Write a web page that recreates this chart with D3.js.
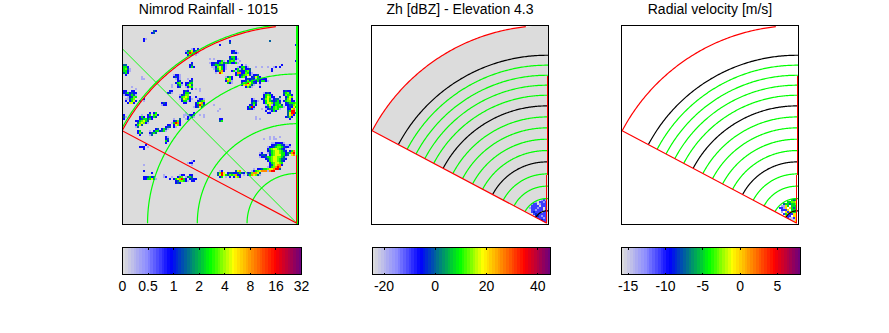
<!DOCTYPE html>
<html>
<head>
<meta charset="utf-8">
<script src="https://cdn.jsdelivr.net/npm/d3@7"></script>
<style>
html,body{margin:0;padding:0;background:#fff}
svg{display:block}
text{font-family:"Liberation Sans",Arial,sans-serif;fill:#000}
</style>
</head>
<body>
<script>
// titles and colorbar ticks
var titles = ["Nimrod Rainfall - 1015", "Zh [dBZ] - Elevation 4.3", "Radial velocity [m/s]"]
var rainTicks = [0, 0.5, 1, 2, 4, 8, 16, 32]
var zhTicks = [-20, 0, 20, 40]
var zhLim = [-24.5, 45]
var vrTicks = [-15, -10, -5, 0, 5]
var vrLim = [-15.9, 8.1]

// range rings, km
var rainRings = [50, 100, 150, 200]
var rainSpokes = [315, 360]
var heightRings = [12.4, 24.8, 37.2, 49.5, 61.6, 73, 84.4, 95.8, 106.8, 117.9, 128.6, 138.7, 148.7, 158.8, 168.8]
var blackRings = [12.4, 61.6, 117.9, 168.8]
var sectorRange = 198.6
var sectorStart = 297.9
var sectorEnd = 354.2

// what a digit in the patches below stands for
var rainLevels = [0.3, 0.9, 1.5, 2.7, 3.6, 5, 8.3, 16, 25]
var zhLevels = [-16, -10, -3, 4, 9]
var vrLevels = [-13.5, -10.5, -7.5, -5, -3, -0.5, 2, 5, -15]

// rainfall, [col, row, rows] on a 2 km grid, col 0 at left edge and row 0 at top
var rainPatches = [
[14,2,[".32","23"]],
[10,6,["21","2"]],
[31,11,["...12.2","1346231","2487421",".262.1"]],
[33,18,[".2","23","242"]],
[0,19,["33","442","4531","4421","342",".2"]],
[9,25,["1","11"]],
[25,24,["1221","2321",".121"]],
[26,27,[".23","2452",".341",".23"]],
[31,26,[".1.2","..23","2244","2463","1254",".1.2"]],
[28,32,["..232","..2443","12355","245652","1365421",".24412","..22"]],
[34,35,["..2","...1221","...2345","..24672","..23853",".12363",".."]],
[22,32,[".22","231"]],
[19,38,["232","122"]],
[0,32,["22..22","2342322","1223431","..12354",".11345",".2.2462","..2662"]],
[8,36,["..2","2.1"]],
[0,44,["2","31","2"]],
[10,43,["...2..","..24"]],
[6,44,["...1.","..242.23","..2344342","2245643",".356521","2463","13"]],
[14,43,[".24",".452","243"]],
[7,52,["24","253",".2"]],
[13,51,["...23","1.2442","2343","13"]],
[19,49,["...22","..233","2431","341"]],
[24,46,[".1..3",".2352","14872",".2652",".21"]],
[30,43,[".1...2","111223","1.2121",".12"]],
[21,55,["21","23","42","2"]],
[48,46,["22","34"]],
[47,41,[".1","1"]],
[52,12,["..221","..2321"]],
[50,15,["...2442","...3342","1.24541","24342241"]],
[44,17,["...2241","2232453","23443321","11256421",".1346421","..23572","..1.86"]],
[54,20,["...12","..2442","241432","..2772","..242"]],
[51,25,["1342","4652","2751",".421"]],
[58,19,[".2.1","2442","1352",".24"]],
[61,20,[".1"]],
[58,21,["...223","..2453","..25421","2345631","2452"]],
[59,26,["..232","22352422","35486432","2676531","..2531"]],
[64,24,[".223","23642","3253","..2431"]],
[66,25,["..2","1.3222","..24421","..2","..1","..2"]],
[62,36,["..21","..2321","..343",".2252","2482","2321"]],
[68,33,["..1232","..24542","..24652",".235641","..2464322","..246653321","...146574453","...2355765442",".1.12356321","...2.1442","....22"]],
[78,32,["..2322","..3453","..25442","...2465","...3562","..24554","...2346","...234","..1"]],
[80,37,["....22","....445","..233564","..23264","..2267","..3488","..36883","..3672",".2352","...2"]],
[75,35,["2..3","2331","2342","3443","34"]],
[72,39,["..12","..2454","..3454","..2"]],
[72,20,["1..12.2","..2","..2.."]],
[86,17,["2"]],
[78,19,[".2"]],
[73,7,["3"]],
[53,7,["2","3"]],
[48,9,["2"]],
[86,9,["2"]],
[68,58,["......1122221","......2234432112","....122345543221","....2456654321","....2345665432.247","12..13456654423478","2332.2456664423.67","12234456655431","...23456654332","....245665432",".....2456654",".....2356772","....2346787","...24567883","..256788"]],
[45,70,["...........................1245","....................1.2234456","...12......367.....124567771","..3586.2332576.2.2357763","..368643545772.1.2476531","...24.1.2.2652"]],
[55,73,[".2343","..22"]],
[10,72,["2"]],
[14,73,["2"]],
[32,67,["..12","122","..1"]],
[8,59,["...2","221","..2"]],
[10,60,["2.1"]],
[18,74,["..1.......","..12..1..."]],
[23,74,[".....122..22",".1..245.1343","2.2467842.2322","...2355421.22","...232"]],
[10,75,["223423","2244631",".."]],
[8,68,[".","..1"]],
[43,16,["1.1","..","1"]],
[56,16,[".1","..1",".1"]],
[24,29,["1","1"]],
[36,31,["1.1","..1"]],
[44,39,[".1"]],
[66,20,["1..1"]],
[66,45,["1","1.1"]],
[70,55,["...1.1..1","1..1.11"]],
[38,44,["1.1","..1"]],
[4,30,["1","..1"]]
]
// lowest sweep echoes near the radar, 2 km grid, top left at -22 km, 24 km
var zhPatches = [
"........121",
".....1.2212",
"...122.1222",
"...2222.222",
"..1222122.2",
"...221222.2",
"...23222.22",
"....2322222",
".....332122",
"......22212",
".......2322",
"........232",
"..........2"
]
var vrPatches = [
"........434",
"......44556",
"....3443445",
"...1164.444",
"..2216.6434",
"...2226.444",
"...1.626544",
"....2462266",
".....622.66",
"......29926",
".......2996",
"........266",
"..........6"
]

var width = 889
var height = 333
var frames = [[122.5, 298.5], [371.5, 548.5], [621.5, 798.5]]
var barX = [[122.5, 301.5], [372.5, 550.5], [621.5, 800.5]]
var plotTop = 25.5
var plotBottom = 224.5
var pxPerKm = 0.995

var mapStops = [0, 0.13, 0.265, 0.49, 0.62, 0.86, 1]
var mapColors = ["#dcdcdc", "#8c8cff", "#0000ff", "#00ff00", "#ffff00", "#ff0000", "#70007a"]
var mapScale = d3.scaleLinear().domain(mapStops).range(mapColors)
var nColors = 64
var colormap = d3.range(nColors).map(function(i){ return mapScale(i/(nColors-1)) })

function colorAt(f){
	var i = Math.max(0, Math.min(nColors-1, Math.floor(f*nColors)))
	return colormap[i]
}

var svg = d3.select("body").append("svg").attr("width",width).attr("height",height)
var defs = svg.append("defs")

// piecewise scale, ticks are evenly spaced along the rainfall bar
var rainFrac = d3.scaleLinear().domain(rainTicks).range(rainTicks.map(function(d,i){ return i/(rainTicks.length-1) }))
var zhFrac = d3.scaleLinear().domain(zhLim).range([0,1])
var vrFrac = d3.scaleLinear().domain(vrLim).range([0,1])

// bearing in degrees -> km
function polar(range, bearing){
	var a = bearing*Math.PI/180
	return [range*Math.sin(a), range*Math.cos(a)]
}

function drawPanel(index){
	var f = frames[index]
	var xMax = 1.7
	var x = d3.scaleLinear().domain([xMax-(f[1]-f[0])/pxPerKm, xMax]).range(f)
	var y = d3.scaleLinear().domain([-1.3, (plotBottom-plotTop)/pxPerKm-1.3]).range([plotBottom, plotTop])
	var g = svg.append("g")

	defs.append("clipPath").attr("id","clip"+index)
		.append("rect").attr("x",f[0]).attr("y",plotTop).attr("width",f[1]-f[0]).attr("height",plotBottom-plotTop)

	var line = d3.line().x(function(d){ return x(d[0]) }).y(function(d){ return y(d[1]) })
	function arc(r, a, b){
		return line(d3.range(a, b+0.001, 0.5).map(function(t){ return polar(r,t) }))
	}
	var sectorPts = [[0,0]].concat(d3.range(sectorStart, 362.01, 0.5).map(function(t){ return polar(sectorRange,t) }))
	sectorPts.push([3,201],[3,0])
	defs.append("clipPath").attr("id","sector"+index)
		.append("path").attr("d", line(sectorPts)+"Z")

	var body = g.append("g").attr("clip-path","url(#clip"+index+")")

	if(index==0){
		body.append("rect").attr("x",f[0]).attr("y",plotTop).attr("width",f[1]-f[0]).attr("height",plotBottom-plotTop).attr("fill","#dcdcdc")
		var cells = []
		rainPatches.forEach(function(p){
			p[2].forEach(function(row,r){
				row.split("").forEach(function(ch,c){
					if(ch>="1" && ch<="9") cells.push({col:p[0]+c, row:p[1]+r, v:rainLevels[+ch-1]})
				})
			})
		})
		var x0 = x.domain()[0]
		var y0 = y.domain()[1]
		body.append("g").attr("shape-rendering","crispEdges").selectAll("rect").data(cells).enter().append("rect")
			.attr("x",function(d){ return x(x0+d.col*2/pxPerKm) })
			.attr("y",function(d){ return y(y0-d.row*2/pxPerKm) })
			.attr("width",2).attr("height",2)
			.attr("fill",function(d){ return colorAt(rainFrac(d.v)) })
		// green overlay
		rainRings.forEach(function(r){
			body.append("path").attr("d",arc(r,270,368)).attr("fill","none").attr("stroke","#00ff00").attr("stroke-width",1.2)
		})
		body.append("path").attr("d",line([[0,0],polar(260,rainSpokes[0])])).attr("fill","none").attr("stroke","#00ff00").attr("stroke-width",0.9)
		body.append("path").attr("d",line([[0,-2],[0,210]])).attr("fill","none").attr("stroke","#00ff00").attr("stroke-width",2.5).attr("shape-rendering","crispEdges")
		drawSector(body, arc, line, 69, 69)
	}else{
		if(index==1){
			body.append("path").attr("d",line(sectorPts)+"Z").attr("fill","#dcdcdc")
		}
		var rows = index==1 ? zhPatches : vrPatches
		var levels = index==1 ? zhLevels : vrLevels
		var frac = index==1 ? zhFrac : vrFrac
		var cells2 = []
		rows.forEach(function(row,r){
			row.split("").forEach(function(ch,c){
				if(ch>="1" && ch<="9") cells2.push({x:-22+c*2, y:24-r*2, v:levels[+ch-1]})
			})
		})
		body.append("g").attr("clip-path","url(#sector"+index+")").attr("shape-rendering","crispEdges")
			.selectAll("rect").data(cells2).enter().append("rect")
			.attr("x",function(d){ return x(d.x) })
			.attr("y",function(d){ return y(d.y) })
			.attr("width",2).attr("height",2)
			.attr("fill",function(d){ return colorAt(frac(d.v)) })
		heightRings.forEach(function(r){
			var black = blackRings.indexOf(r)>=0
			body.append("path").attr("d",arc(r,sectorStart,368)).attr("fill","none")
				.attr("stroke",black?"#000":"#00ff00").attr("stroke-width",1.2)
		})
		drawSector(body, arc, line, 48, 147.5)
	}

	g.append("rect").attr("x",f[0]).attr("y",plotTop).attr("width",f[1]-f[0]).attr("height",plotBottom-plotTop)
		.attr("fill","none").attr("stroke","#000").attr("stroke-width",1).attr("shape-rendering","crispEdges")

	g.append("text").attr("x",(f[0]+f[1])/2-(index==0?2:0)).attr("y",14).attr("text-anchor","middle")
		.style("font-size","14px").text(titles[index])
}

// boundary of the scanned sector, the right edge has one step in it
function drawSector(body, arc, line, step, edge){
	var red = "#ff0000"
	body.append("path").attr("d",arc(sectorRange,sectorStart,sectorEnd)).attr("fill","none").attr("stroke",red).attr("stroke-width",1.2)
	body.append("path").attr("d",line([[0,0],polar(sectorRange,sectorStart)])).attr("fill","none").attr("stroke",red).attr("stroke-width",1.2)
	body.append("path").attr("d",line([[-0.3,0],[-0.3,step]])).attr("fill","none").attr("stroke",red).attr("stroke-width",1.4).attr("shape-rendering","crispEdges")
	if(edge>step){
		body.append("path").attr("d",line([[0.7,step],[0.7,edge]])).attr("fill","none").attr("stroke",red).attr("stroke-width",1.4).attr("shape-rendering","crispEdges")
	}
}

function drawBar(index, ticks, ticksX){
	var b = barX[index]
	var g = svg.append("g")
	var t = 247.5
	var bh = 27
	var pos = d3.scaleBand().domain(d3.range(nColors)).range(b)
	g.append("g").attr("shape-rendering","crispEdges").selectAll("rect").data(colormap).enter().append("rect")
		.attr("x",function(d,i){ return pos(i) })
		.attr("y",t).attr("width",pos.bandwidth()+0.5).attr("height",bh)
		.attr("fill",function(d){ return d })
	g.append("rect").attr("x",b[0]).attr("y",t).attr("width",b[1]-b[0]).attr("height",bh)
		.attr("fill","none").attr("stroke","#000").attr("shape-rendering","crispEdges")
	ticks.forEach(function(d){
		var px = ticksX(d)
		g.append("path").attr("d","M"+px+","+t+"v2M"+px+","+(t+bh)+"v-2").attr("stroke","#000").attr("shape-rendering","crispEdges")
		g.append("text").attr("x",px).attr("y",291).attr("text-anchor","middle").style("font-size","14px").text(d)
	})
}

drawPanel(0)
drawPanel(1)
drawPanel(2)
drawBar(0, rainTicks, rainFrac.copy().range(rainTicks.map(function(d,i){ return barX[0][0]+(barX[0][1]-barX[0][0])*i/(rainTicks.length-1) })))
drawBar(1, zhTicks, d3.scaleLinear().domain(zhLim).range(barX[1]))
drawBar(2, vrTicks, d3.scaleLinear().domain(vrLim).range(barX[2]))
</script>
</body>
</html>
